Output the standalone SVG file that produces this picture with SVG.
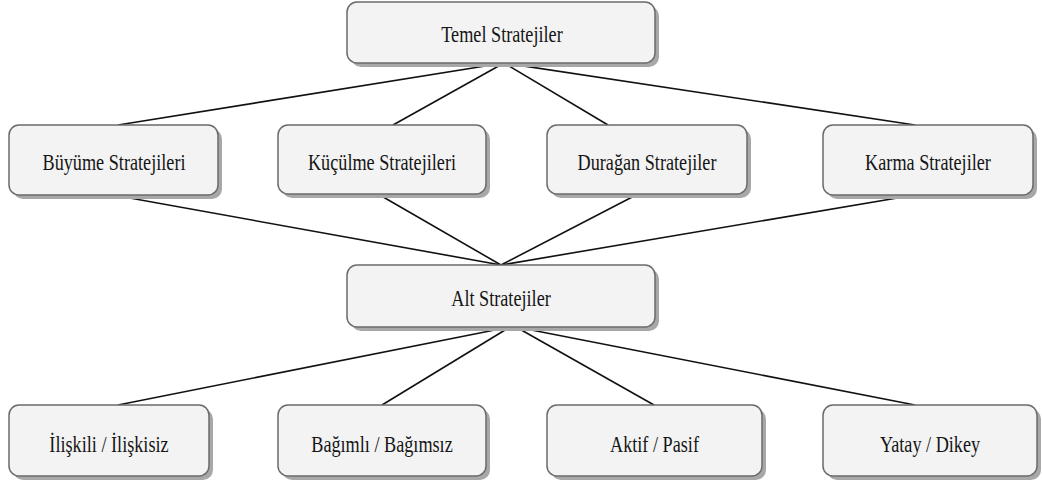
<svg xmlns="http://www.w3.org/2000/svg" width="1042" height="486" viewBox="0 0 1042 486">
<defs>
<style>
.box{fill:#f3f3f3;stroke:#6b6b6b;stroke-width:1.5}
.sh{fill:#a8a8a8}
text{font-family:'Liberation Serif','Times New Roman',Times,serif;font-size:18.2px;fill:#151515;text-anchor:middle}
.c line{stroke:#111;stroke-width:1.6}
</style>
</defs>
<rect width="1042" height="486" fill="#fff"/>
<g class="c" id="connectors">
<line x1="504" y1="63" x2="118" y2="125"/>
<line x1="504" y1="63" x2="393" y2="125"/>
<line x1="504" y1="63" x2="608" y2="125"/>
<line x1="504" y1="63" x2="915" y2="125"/>
<line x1="113" y1="195" x2="501" y2="265"/>
<line x1="378" y1="194" x2="501" y2="265"/>
<line x1="638" y1="194" x2="501" y2="265"/>
<line x1="915" y1="195" x2="501" y2="265"/>
<line x1="510" y1="327" x2="118" y2="405"/>
<line x1="510" y1="327" x2="382" y2="405"/>
<line x1="516" y1="327" x2="654" y2="405"/>
<line x1="516" y1="327" x2="915" y2="405"/>
</g>
<g id="temel"><rect class="sh" x="351" y="6" width="308" height="61" rx="10"/><rect class="box" x="347" y="2" width="308" height="61" rx="10"/><text transform="translate(502 42.3) scale(1 1.25)">Temel Stratejiler</text></g>
<g id="buyume"><rect class="sh" x="13" y="129" width="209" height="70" rx="10"/><rect class="box" x="9" y="125" width="209" height="70" rx="10"/><text transform="translate(114 169.5) scale(1 1.25)">Büyüme Stratejileri</text></g>
<g id="kuculme"><rect class="sh" x="282" y="129" width="208" height="69" rx="10"/><rect class="box" x="278" y="125" width="208" height="69" rx="10"/><text transform="translate(382 169.5) scale(1 1.25)">Küçülme Stratejileri</text></g>
<g id="duragan"><rect class="sh" x="551" y="129" width="200" height="69" rx="10"/><rect class="box" x="547" y="125" width="200" height="69" rx="10"/><text transform="translate(647 169.5) scale(1 1.25)">Durağan Stratejiler</text></g>
<g id="karma"><rect class="sh" x="827" y="129" width="210" height="70" rx="10"/><rect class="box" x="823" y="125" width="210" height="70" rx="10"/><text transform="translate(928 169.5) scale(1 1.25)">Karma Stratejiler</text></g>
<g id="alt"><rect class="sh" x="351" y="269" width="308" height="62" rx="10"/><rect class="box" x="347" y="265" width="308" height="62" rx="10"/><text transform="translate(501 306) scale(1 1.25)">Alt Stratejiler</text></g>
<g id="iliskili"><rect class="sh" x="13" y="409" width="200" height="71" rx="10"/><rect class="box" x="9" y="405" width="200" height="71" rx="10"/><text transform="translate(109 451.5) scale(1 1.25)">İlişkili / İlişkisiz</text></g>
<g id="bagimli"><rect class="sh" x="282" y="409" width="208" height="71" rx="10"/><rect class="box" x="278" y="405" width="208" height="71" rx="10"/><text transform="translate(382 451.5) scale(1 1.25)">Bağımlı / Bağımsız</text></g>
<g id="aktif"><rect class="sh" x="551" y="409" width="215" height="71" rx="10"/><rect class="box" x="547" y="405" width="215" height="71" rx="10"/><text transform="translate(654.5 451.5) scale(1 1.25)">Aktif / Pasif</text></g>
<g id="yatay"><rect class="sh" x="827" y="409" width="214" height="71" rx="10"/><rect class="box" x="823" y="405" width="214" height="71" rx="10"/><text transform="translate(930 451.5) scale(1 1.25)">Yatay / Dikey</text></g>
</svg>
